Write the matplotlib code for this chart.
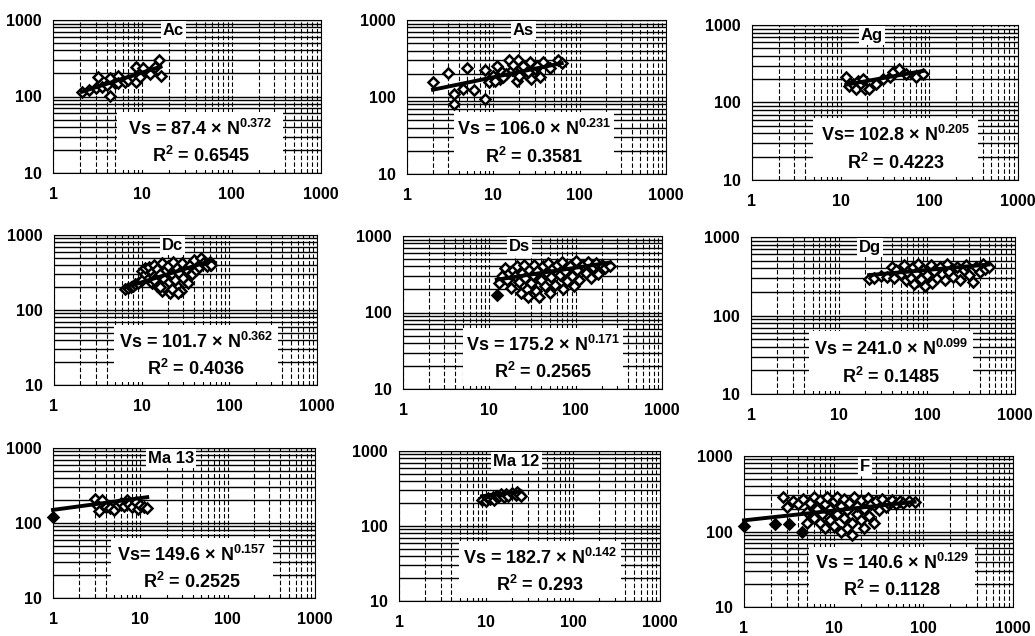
import matplotlib
matplotlib.use("Agg")
import matplotlib.pyplot as plt
from matplotlib.patches import Rectangle
import numpy as np

plt.rcParams['font.family'] = ['Liberation Sans', 'DejaVu Sans']
plt.rcParams['font.weight'] = 'bold'
plt.rcParams['mathtext.fontset'] = 'custom'
plt.rcParams['mathtext.rm'] = 'Liberation Sans:bold'
plt.rcParams['mathtext.it'] = 'Liberation Sans:bold'
plt.rcParams['mathtext.bf'] = 'Liberation Sans:bold'

# --- data (N value, Vs in m/s) ---
ac_n = [2.1, 2.5, 3.0, 3.2, 3.5, 4.0, 4.3, 4.3, 5.0, 5.4, 5.4, 6.4, 7.0, 8.0, 8.6, 8.6, 9.4, 10.2, 12.2, 14.0, 15.5, 16.0]
ac_vs = [113, 120, 128, 180, 135, 140, 102, 175, 150, 188, 149, 153, 165, 175, 242, 153, 179, 233, 197, 242, 303, 188]

as_n = [2.0, 3.0, 3.5, 3.5, 4.4, 5.0, 5.9, 8.1, 8.1, 8.8, 10, 11, 12, 12.5, 14, 15, 16.5, 18.7, 19.5, 21,
        22, 24, 26.7, 27.6, 30, 35, 38, 45, 56, 62, 10.5, 13, 17, 20, 25, 32]
as_vs = [155, 203, 111, 82, 126, 237, 122, 95, 225, 155, 190, 249, 171, 210, 200, 302, 225, 163, 302, 240,
         249, 200, 288, 171, 230, 180, 288, 237, 302, 280, 160, 180, 260, 190, 210, 250]

ag_n = [11.6, 12.5, 13.7, 15, 15.5, 17, 17.8, 18.6, 21, 25, 30, 36, 39, 46, 55, 71, 84]
ag_vs = [212, 165, 173, 150, 190, 173, 202, 150, 150, 173, 202, 212, 245, 271, 233, 212, 233]

dc_n = [6.5, 7, 7.5, 8, 8.5, 9, 10, 10, 11, 11, 12, 12, 13, 13, 14, 14, 15, 15, 16, 17, 17, 18, 19, 20, 20, 21,
        22, 23, 24, 25, 26, 27, 28, 29, 30, 32, 34, 36, 38, 40, 42, 45, 48, 50, 55, 60, 62, 18, 22, 26, 14, 16]
dc_vs = [190, 195, 200, 210, 220, 230, 250, 330, 300, 360, 270, 380, 320, 230, 400, 280, 350, 210, 300, 420, 180,
         260, 340, 390, 230, 170, 300, 440, 250, 360, 200, 310, 180, 420, 270, 350, 230, 400, 300, 460, 340, 380,
         500, 420, 390, 430, 400, 200, 190, 170, 250, 200]

ds_n = [13, 14, 15, 16, 17, 18, 19, 20, 21, 22, 23, 24, 25, 26, 27, 28, 29, 30, 32, 33, 35, 36, 38, 40, 42, 44,
        46, 48, 50, 52, 55, 58, 60, 65, 70, 72, 75, 80, 85, 90, 95, 100, 105, 110, 120, 130, 140, 150, 160, 170,
        180, 200, 220, 250]
ds_vs = [240, 300, 380, 270, 330, 210, 360, 300, 400, 250, 180, 330, 420, 280, 200, 160, 360, 240, 310, 420, 190,
         350, 160, 270, 400, 220, 330, 450, 180, 290, 380, 230, 420, 310, 460, 200, 350, 260, 410, 300, 220, 470,
         360, 270, 420, 330, 460, 280, 390, 440, 320, 420, 380, 400]
ds_solid_n = [12.2]
ds_solid_vs = [167]

dg_n = [22, 25, 30, 35, 40, 42, 45, 50, 55, 58, 60, 65, 70, 72, 75, 80, 85, 90, 95, 100, 110, 115, 120, 130,
        140, 150, 160, 170, 180, 200, 220, 240, 260, 280, 300, 330, 360, 400, 430, 460, 500]
dg_vs = [290, 300, 320, 310, 420, 300, 380, 340, 440, 280, 360, 300, 420, 250, 350, 450, 290, 380, 240, 330,
         440, 260, 370, 300, 420, 340, 280, 450, 360, 310, 420, 280, 380, 440, 330, 270, 420, 360, 450, 390, 420]

ma13_n = [3.0, 3.2, 3.4, 3.6, 4, 4.5, 5, 5.5, 6, 6.5, 7, 7.5, 8, 9, 9.5, 10, 11, 12]
ma13_vs = [210, 175, 145, 205, 165, 160, 150, 175, 185, 170, 200, 180, 165, 190, 155, 175, 165, 160]
ma13_solid_n = [1]
ma13_solid_vs = [122]

ma12_n = [9, 10, 10.5, 11, 12, 12.5, 13, 14, 15, 16, 17, 18, 20, 22, 23, 24, 25]
ma12_vs = [225, 215, 235, 230, 240, 225, 250, 255, 265, 245, 270, 250, 275, 260, 280, 265, 255]

f_n = [2.7, 3, 3.5, 4, 4.5, 5, 5, 5.5, 6, 6, 6.5, 7, 7, 7.5, 8, 8, 8.5, 9, 9, 10, 10, 11, 11, 12, 12, 13, 13,
       14, 14, 15, 16, 16, 17, 18, 18, 20, 20, 22, 22, 24, 25, 26, 28, 30, 32, 35, 38, 40, 45, 50, 55, 60, 70, 80]
f_vs = [288, 210, 250, 230, 270, 180, 130, 240, 150, 290, 200, 130, 260, 170, 110, 230, 290, 140, 200, 250, 120,
        170, 290, 100, 220, 150, 270, 110, 190, 240, 90, 130, 290, 170, 220, 140, 260, 110, 200, 280, 160, 230,
        130, 250, 190, 270, 210, 240, 260, 230, 250, 240, 250, 245]
f_solid_n = [1, 2.2, 3.2, 4.4]
f_solid_vs = [120, 126, 126, 100]

# fit coefficients shown on the chart: Vs = a * N^b
names = ['Ac', 'As', 'Ag', 'Dc', 'Ds', 'Dg', 'Ma 13', 'Ma 12', 'F']
coef_a = [87.4, 106.0, 102.8, 101.7, 175.2, 241.0, 149.6, 182.7, 140.6]
coef_b = [0.372, 0.231, 0.205, 0.362, 0.171, 0.099, 0.157, 0.142, 0.129]
r2_txt = ['0.6545', '0.3581', '0.4223', '0.4036', '0.2565', '0.1485', '0.2525', '0.293', '0.1128']
eq_sep = [' = ', ' = ', '= ', ' = ', ' = ', ' = ', '= ', ' = ', ' = ']

open_n = [ac_n, as_n, ag_n, dc_n, ds_n, dg_n, ma13_n, ma12_n, f_n]
open_vs = [ac_vs, as_vs, ag_vs, dc_vs, ds_vs, dg_vs, ma13_vs, ma12_vs, f_vs]
solid_n = [[], [], [], [], ds_solid_n, [], ma13_solid_n, [], f_solid_n]
solid_vs = [[], [], [], [], ds_solid_vs, [], ma13_solid_vs, [], f_solid_vs]

# panel boxes in pixels: left, top, width, height
W, H = 1035, 636
boxes = [(53, 20, 268, 153), (407, 20, 259, 154), (752, 25, 266, 155),
         (54, 235, 263, 150), (403, 236, 259, 153), (751, 237, 264, 157),
         (53, 448, 262, 150), (399, 451, 261, 150), (744, 456, 269, 151)]
eq_x = [0.55, 0.49, 0.54, 0.54, 0.54, 0.53, 0.53, 0.54, 0.55]

fig = plt.figure(figsize=(W / 100, H / 100), dpi=100)

for i in range(9):
    l, t, w, h = boxes[i]
    ax = fig.add_axes([l / W, 1 - (t + h) / H, w / W, h / H])
    ax.set_xscale('log')
    ax.set_yscale('log')
    ax.set_xlim(1, 1000)
    ax.set_ylim(10, 1000)
    ax.set_xticks([1, 10, 100, 1000])
    ax.set_xticklabels(['1', '10', '100', '1000'])
    ax.set_yticks([10, 100, 1000])
    ax.set_yticklabels(['10', '100', '1000'])
    ax.tick_params(which='both', length=0, labelsize=11.5)
    ax.tick_params(axis='x', pad=10)
    ax.tick_params(axis='y', pad=8)
    for lab in ax.get_xticklabels() + ax.get_yticklabels():
        lab.set_fontweight('bold')
    ax.grid(which='both', axis='y', color='black', lw=1.0, ls='-')
    ax.grid(which='both', axis='x', color='black', lw=0.8, ls=(0, (4, 2)))
    ax.set_axisbelow(True)
    for s in ax.spines.values():
        s.set_linewidth(0.8)

    # scatter
    ax.plot(open_n[i], open_vs[i], 'D', ms=5, mfc='white', mec='black', mew=1.8, zorder=3, clip_on=False)
    if solid_n[i]:
        ax.plot(solid_n[i], solid_vs[i], 'D', ms=5, mfc='black', mec='black', mew=1.8, zorder=3,
                clip_on=False)

    # fitted power law across the data range
    all_n = list(open_n[i]) + list(solid_n[i])
    nn = np.array([min(all_n), max(all_n)])
    ax.plot(nn, coef_a[i] * nn ** coef_b[i], color='black', lw=2.8, zorder=4, clip_on=False)

    # equation box
    cx = eq_x[i]
    ax.add_patch(Rectangle((cx - 0.31, 0.02), 0.62, 0.38, transform=ax.transAxes,
                           facecolor='white', edgecolor='none', zorder=2))
    ax.text(cx, 0.29, 'Vs' + eq_sep[i] + '%.1f × N$^{%s}$' % (coef_a[i], ('%.3f' % coef_b[i])),
            transform=ax.transAxes, ha='center', va='center', fontsize=13, fontweight='bold', zorder=5)
    ax.text(cx, 0.11, 'R$^{2}$ = ' + r2_txt[i], transform=ax.transAxes, ha='center', va='center',
            fontsize=13, fontweight='bold', zorder=5)

    # panel name
    ax.text(0.45, 0.93, names[i], transform=ax.transAxes, ha='center', va='center', fontsize=12,
            fontweight='bold', zorder=5,
            bbox=dict(facecolor='white', edgecolor='none', pad=1.5))

fig.savefig('out.png', dpi=100)
